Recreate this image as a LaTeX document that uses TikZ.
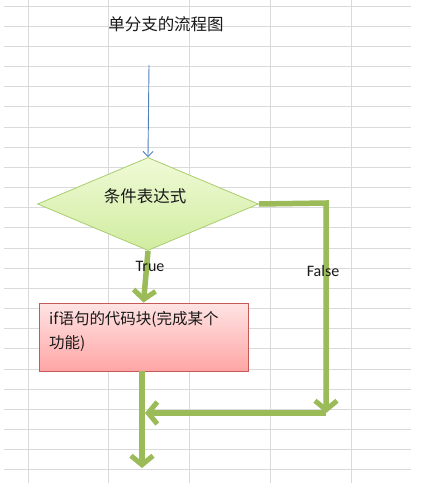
\documentclass[tikz,border=0pt]{standalone}
\usepackage{fontspec}
\newfontfamily\cjk{Noto Sans CJK SC}
\newfontfamily\lat{Carlito}
\usetikzlibrary{arrows.meta,shapes.geometric}
\definecolor{gridc}{RGB}{218,218,218}
\definecolor{flowgreen}{RGB}{155,187,89}
\definecolor{bluearrow}{RGB}{79,129,189}
\definecolor{diamtop}{RGB}{240,250,214}
\definecolor{diambot}{RGB}{208,236,160}
\definecolor{diamedge}{RGB}{170,205,110}
\definecolor{recttop}{RGB}{255,228,228}
\definecolor{rectbot}{RGB}{255,165,165}
\definecolor{rectedge}{RGB}{196,90,88}
\tikzset{
  gridline/.style={draw=gridc, line width=0.9pt},
  condbox/.style={diamond, minimum width=221pt, minimum height=93pt, inner sep=0pt,
    draw=diamedge, line width=0.8pt, top color=diamtop, bottom color=diambot},
  blockbox/.style={rectangle, minimum width=209pt, minimum height=68pt, inner sep=0pt,
    draw=rectedge, line width=0.8pt, top color=recttop, bottom color=rectbot},
  cjktext/.style={font=\cjk\fontsize{15.5}{24}\selectfont, text=black!90, inner sep=0pt},
  lattext/.style={font=\lat\fontsize{16}{18}\selectfont, text=black!90, inner sep=0pt},
  greenflow/.style={draw=flowgreen, line width=5.5pt,
    -{Straight Barb[length=9pt, width=22pt, line width=5pt]}},
  blueflow/.style={draw=bluearrow, line width=0.9pt,
    -{Straight Barb[length=5pt, width=10pt, line width=0.9pt]}}
}
\begin{document}
\begin{tikzpicture}[x=1pt,y=-1pt]
\useasboundingbox (0,0) rectangle (443,483);
\fill[white] (0,0) rectangle (443,483);
% spreadsheet grid
\foreach \k in {0,...,23}{
  \draw[gridline] (4,{6+20.17*\k}) -- (411,{6+20.17*\k});
}
\foreach \xx in {28,108.7,189.3,270.3,351}{
  \draw[gridline] (\xx,0) -- (\xx,483);
}
% title
\node[cjktext, font=\cjk\fontsize{16.5}{20}\selectfont] (title) at (166,24) {单分支的流程图};
% start arrow
\coordinate (start) at (149,65);
% condition
\node[condbox] (cond) at (148,204) {};
\node[cjktext, font=\cjk\fontsize{16.5}{20}\selectfont] (condtext) at (145,196) {条件表达式};
% block
\node[blockbox] (blk) at (143.5,337) {};
\node[cjktext, align=left, anchor=north west] (blktext) at (49,311) {if语句的代码块(完成某个\\功能)};
% coordinates
\coordinate (corner) at (326,413);
\coordinate (join) at (142,413);
\coordinate (finish) at (142,468);
\coordinate (elbow) at (326,203);
% connectors
\draw[blueflow] (start) -- (cond.north);
\draw[greenflow] (cond.south) -- (blk.north);
\draw[greenflow] (cond.east) -- (elbow) -- (corner);
\draw[greenflow] (corner) -- ([xshift=3pt]join);
\draw[greenflow] (blk.south -| join) -- (finish);
% labels
\node[lattext] (truelbl) at (150,266) {True};
\node[lattext] (falselbl) at (323,271) {False};
\end{tikzpicture}
\end{document}
